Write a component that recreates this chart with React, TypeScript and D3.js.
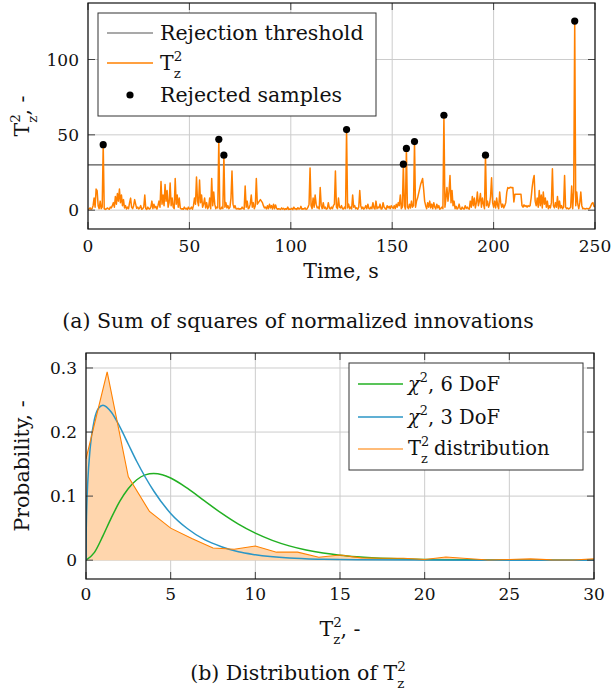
import React, { useEffect, useRef } from "react";
import * as d3 from "d3";

const W = 611;
const H = 692;
const FONT = "DejaVu Serif";

// T_z^2 samples, one every 0.5 s from 0 to 250 s
const sampleStep = 0.5;
const t2Values = [
  0.3, 0.8, 1.5, 0.6, 1, 3, 8, 2, 14, 13, 3, 1, 6, 1, 2, 43.5, 1, 0.5, 0.8, 1.5,
  1, 0.6, 2, 1.5, 3, 5, 2, 9, 4, 11, 6, 14, 5, 10, 3, 7, 1.5, 3, 0.8, 2,
  1, 5, 8, 2, 1, 3, 7, 4, 1.2, 2, 0.8, 1.5, 3, 0.6, 1, 2, 10, 1, 0.5, 2,
  1, 0.8, 2, 6, 1, 4, 1.5, 2.5, 0.7, 3, 6, 2, 19, 4, 10, 3, 17, 6, 13, 2,
  5, 18, 3, 8, 2, 1, 21, 4, 10, 2, 8, 1.5, 0.8, 1, 0.6, 2, 0.8, 1.2, 0.5, 2,
  0.8, 1, 2, 0.6, 3, 8, 4, 22, 6, 3, 20, 5, 10, 2, 4, 8, 1.5, 5, 1, 2,
  8, 1, 21, 3, 12, 4, 1, 2, 1.5, 47, 1, 0.8, 2, 1, 36.5, 2, 5, 1.5, 3, 1,
  2, 8, 26, 4, 1.5, 3, 1, 0.8, 1.2, 0.6, 1, 0.8, 2, 1, 0.7, 16, 2, 6, 1, 1.5,
  4, 10, 2, 5, 1, 3, 21, 4, 5, 6, 7, 6, 5, 3, 1.5, 2, 0.8, 3, 1, 4,
  1.5, 3, 0.8, 4, 1, 3.5, 1.2, 0.6, 1, 0.8, 0.5, 1.5, 0.7, 1.2, 0.4, 1, 0.6, 2, 0.5, 0.8,
  0.6, 1.2, 0.4, 2, 0.8, 1, 0.5, 1.6, 0.7, 0.9, 2.5, 0.6, 1, 0.8, 1.5, 0.5, 0.9, 2, 4, 28,
  3, 1, 8, 2, 10, 4, 1.5, 2, 0.8, 15, 3, 1, 5, 1.2, 2, 0.7, 1, 5, 1.5, 0.8,
  2, 1, 3, 4, 26, 2, 1, 8, 2, 1.5, 3, 1, 0.8, 2, 1, 53.5, 1.5, 4, 1, 2,
  0.8, 10, 2, 3, 1, 1.5, 0.6, 2, 13, 3, 1, 2, 0.7, 1.5, 3, 1, 4, 1.2, 0.8, 2,
  1, 5, 1.5, 0.8, 6, 1, 2, 1.5, 4, 0.8, 1, 5, 2, 1.2, 0.6, 3, 1.5, 2.5, 1, 3,
  2, 1.2, 3, 1, 4, 2, 5, 3, 10, 1, 2, 30.5, 3, 0.8, 41, 2, 1, 4, 1.5, 6,
  2, 3, 45.5, 2, 6, 8, 11, 14, 17, 19, 21, 14, 6, 3, 1, 5, 2, 6, 1.5, 4,
  1, 5, 2, 0.8, 4, 1.5, 3, 0.6, 1.2, 2, 1, 63, 2, 8, 15, 6, 12, 23, 5, 13,
  3, 6, 1, 2.5, 0.8, 1.5, 4, 1, 0.6, 2, 1, 0.8, 3, 1.2, 2, 1, 0.7, 6, 2, 9,
  3, 8, 1.5, 5, 12, 3, 6, 11, 2, 8, 4, 1, 36.5, 3, 6, 2, 4, 9, 21.5, 5,
  2, 6, 1.5, 8, 3, 1, 12, 5, 2, 4, 1.5, 3, 5, 12, 15, 14.5, 15, 15.2, 14.8, 15,
  5.5, 10.5, 10.6, 10.5, 10.6, 10.5, 10.6, 10.5, 3, 2, 3.5, 2.5, 3, 2, 3, 2.5, 3, 8, 15, 20,
  23, 6, 3, 8, 2, 13, 3, 10, 1.5, 12, 4, 8, 2, 6, 1, 3, 1.5, 5, 27.5, 3,
  1.5, 5, 2, 9, 1, 6, 1.5, 3, 1, 2, 23, 2, 1, 1.5, 0.8, 1.2, 2, 16, 1, 12,
  125.5, 3, 12, 4, 1, 5, 12, 3, 1, 1.2, 0.8, 1, 1.2, 0.9, 1, 1.5, 3, 4.5, 5, 2.5,
  2.5,
];
const threshold = 30;

// histogram of T_z^2 (bin centre, probability)
const distX = [0, 1.25, 2.5, 3.75, 5, 6.25, 7.5, 8.75, 10, 11.25, 12.5, 13.75, 15, 16.25, 17.5, 18.75, 20, 21.25, 22.5, 23.75, 25, 26.25, 27.5, 28.75, 30];
const distY = [0.158, 0.294, 0.13, 0.076, 0.05, 0.034, 0.019, 0.017, 0.022, 0.0125, 0.0125, 0.0045, 0.008, 0.0036, 0.003, 0.003, 0.001, 0.005, 0.0025, 0.0003, 0.001, 0.002, 0.0005, 0.0003, 0.002];

// chi-square densities
const chi6X = [0, 0.5, 1, 1.5, 2, 2.5, 3, 3.5, 4, 4.5, 5, 6, 7, 8, 9, 10, 11, 12, 13, 14, 15, 16, 18, 20, 22, 25, 30];
const chi6Y = [0, 0.0122, 0.0379, 0.0664, 0.092, 0.1119, 0.1255, 0.1331, 0.1353, 0.1334, 0.1283, 0.112, 0.0925, 0.0733, 0.0562, 0.0421, 0.0309, 0.0223, 0.0159, 0.0112, 0.0078, 0.0054, 0.0025, 0.0011, 0.0005, 0.00015, 0.00002];
const chi3X = [0, 0.005, 0.02, 0.05, 0.1, 0.25, 0.5, 0.75, 1, 1.5, 2, 2.5, 3, 4, 5, 6, 7, 8, 9, 10, 12, 14, 16, 20, 25, 30];
const chi3Y = [0, 0.028, 0.056, 0.087, 0.12, 0.176, 0.22, 0.2375, 0.242, 0.231, 0.208, 0.181, 0.154, 0.108, 0.073, 0.049, 0.032, 0.021, 0.013, 0.0085, 0.0034, 0.0014, 0.0005, 0.0001, 0, 0];

const topXTicks = [0, 50, 100, 150, 200, 250];
const topYTicks = [0, 50, 100];
const botXTicks = [0, 5, 10, 15, 20, 25, 30];
const botYTicks = [0, 0.1, 0.2, 0.3];

const ORANGE = "#ff8000";
const GREEN = "#22b022";
const BLUE = "#2b96c6";
const FILL = "#ffd6ad";
const GRID = "#cccccc";
const FS = 20.5; // labels, captions
const FL = 19.5; // lower legend
const FT = 17; // tick numbers

// T with stacked super 2 and sub z, followed by rest
function tz2(text: any, fs: number, rest: string) {
  const s = 0.66 * fs;
  text.append("tspan").text("T");
  text.append("tspan").attr("dy", -0.44 * fs).attr("font-size", s).text("2");
  text.append("tspan").attr("dx", -0.636 * s).attr("dy", 0.84 * fs).attr("font-size", s).text("z");
  text.append("tspan").attr("dy", -0.4 * fs).text(rest);
}

function chi(text: any, fs: number, rest: string) {
  text.append("tspan").attr("font-style", "italic").text("χ");
  text.append("tspan").attr("dy", -0.44 * fs).attr("font-size", 0.66 * fs).text("2");
  text.append("tspan").attr("dy", 0.44 * fs).text(rest);
}

function axesFrame(svg: any, x: any, y: any, xTicks: number[], yTicks: number[], xLabY: number) {
  const [x0, x1] = x.range();
  const [y0, y1] = y.range();
  const g = svg.append("g");
  g.selectAll(".gx").data(xTicks).enter().append("line")
    .attr("x1", (d) => x(d)).attr("x2", (d) => x(d)).attr("y1", y0).attr("y2", y1)
    .attr("stroke", GRID).attr("stroke-width", 1);
  g.selectAll(".gy").data(yTicks).enter().append("line")
    .attr("x1", x0).attr("x2", x1).attr("y1", (d) => y(d)).attr("y2", (d) => y(d))
    .attr("stroke", GRID).attr("stroke-width", 1);
  return () => {
    const t = svg.append("g").attr("stroke", "#444").attr("stroke-width", 1);
    const tl = 7;
    xTicks.forEach((d) => {
      t.append("line").attr("x1", x(d)).attr("x2", x(d)).attr("y1", y0).attr("y2", y0 - tl);
      t.append("line").attr("x1", x(d)).attr("x2", x(d)).attr("y1", y1).attr("y2", y1 + tl);
    });
    yTicks.forEach((d) => {
      t.append("line").attr("x1", x0).attr("x2", x0 + tl).attr("y1", y(d)).attr("y2", y(d));
      t.append("line").attr("x1", x1).attr("x2", x1 - tl).attr("y1", y(d)).attr("y2", y(d));
    });
    svg.append("rect").attr("x", x0).attr("y", y1).attr("width", x1 - x0).attr("height", y0 - y1)
      .attr("fill", "none").attr("stroke", "#111").attr("stroke-width", 1.2);
    svg.selectAll(null).data(xTicks).enter().append("text")
      .attr("x", (d) => x(d)).attr("y", xLabY).attr("text-anchor", "middle").attr("font-size", FT)
      .text((d) => String(d));
    svg.selectAll(null).data(yTicks).enter().append("text")
      .attr("x", x0 - 9).attr("y", (d) => y(d)).attr("dy", "0.36em").attr("text-anchor", "end")
      .attr("font-size", FT)
      .text((d) => String(d));
  };
}

const App = () => {
  const ref = useRef<SVGSVGElement>(null);

  useEffect(() => {
    const svg = d3.select(ref.current);
    svg.selectAll("*").remove();
    svg.attr("font-family", FONT).attr("font-size", FS).attr("fill", "#111");

    // ---------- (a) time series ----------
    const xT = d3.scaleLinear().domain([0, 250]).range([88, 595]);
    const yT = d3.scaleLinear().domain([-12.5, 137.5]).range([229, 3]);
    const finishTop = axesFrame(svg, xT, yT, topXTicks, topYTicks, 252);

    svg.append("clipPath").attr("id", "clipTop").append("rect")
      .attr("x", 88).attr("y", 3).attr("width", 507).attr("height", 226);

    const series = t2Values.map((v, i) => ({ t: i * sampleStep, v }));
    const rejected = series.filter((d) => d.v > threshold);

    svg.append("line").attr("x1", xT(0)).attr("x2", xT(250))
      .attr("y1", yT(threshold)).attr("y2", yT(threshold))
      .attr("stroke", "#555").attr("stroke-width", 1.2);

    const line = d3.line<any>().x((d) => xT(d.t)).y((d) => yT(d.v));
    svg.append("path").datum(series).attr("d", line).attr("clip-path", "url(#clipTop)")
      .attr("fill", "none").attr("stroke", ORANGE).attr("stroke-width", 1.5)
      .attr("stroke-linejoin", "round");

    svg.selectAll(".rej").data(rejected).enter().append("circle")
      .attr("cx", (d) => xT(d.t)).attr("cy", (d) => yT(d.v)).attr("r", 3.6).attr("fill", "#000");

    finishTop();

    // legend (a)
    const lg = svg.append("g");
    lg.append("rect").attr("x", 98).attr("y", 13).attr("width", 278).attr("height", 103)
      .attr("fill", "#fff").attr("stroke", "#333").attr("stroke-width", 1);
    lg.append("line").attr("x1", 107).attr("x2", 153).attr("y1", 33).attr("y2", 33)
      .attr("stroke", "#555").attr("stroke-width", 1.2);
    lg.append("text").attr("x", 160).attr("y", 40).text("Rejection threshold");
    lg.append("line").attr("x1", 107).attr("x2", 153).attr("y1", 63).attr("y2", 63)
      .attr("stroke", ORANGE).attr("stroke-width", 1.5);
    tz2(lg.append("text").attr("x", 160).attr("y", 70), FS, "");
    lg.append("circle").attr("cx", 130).attr("cy", 95).attr("r", 3.6).attr("fill", "#000");
    lg.append("text").attr("x", 160).attr("y", 102).text("Rejected samples");

    svg.append("text").attr("x", 341).attr("y", 278).attr("text-anchor", "middle").text("Time, s");
    tz2(svg.append("text").attr("transform", "translate(29,116) rotate(-90)").attr("text-anchor", "middle"), FS, ", -");
    svg.append("text").attr("x", 298).attr("y", 328).attr("text-anchor", "middle")
      .text("(a) Sum of squares of normalized innovations");

    // ---------- (b) distribution ----------
    const xD = d3.scaleLinear().domain([0, 30]).range([86, 594]);
    const yD = d3.scaleLinear().domain([-0.0294, 0.3234]).range([579, 353]);
    const finishBot = axesFrame(svg, xD, yD, botXTicks, botYTicks, 600);

    svg.append("clipPath").attr("id", "clipBot").append("rect")
      .attr("x", 86).attr("y", 353).attr("width", 508).attr("height", 226);
    const pb = svg.append("g").attr("clip-path", "url(#clipBot)");

    const dist = distX.map((x, i) => ({ x, y: distY[i] }));
    const area = d3.area<any>().x((d) => xD(d.x)).y0(yD(0)).y1((d) => yD(d.y));
    pb.append("path").datum(dist).attr("d", area).attr("fill", FILL);

    const curve = (xs: number[], ys: number[]) =>
      d3.line<number>().x((d) => xD(d)).y((d, i) => yD(ys[i])).curve(d3.curveMonotoneX)(xs);
    pb.append("path").attr("d", curve(chi6X, chi6Y)).attr("fill", "none")
      .attr("stroke", GREEN).attr("stroke-width", 1.5);
    pb.append("path").attr("d", curve(chi3X, chi3Y)).attr("fill", "none")
      .attr("stroke", BLUE).attr("stroke-width", 1.5);
    const dl = d3.line<any>().x((d) => xD(d.x)).y((d) => yD(d.y));
    pb.append("path").datum(dist).attr("d", dl).attr("fill", "none")
      .attr("stroke", ORANGE).attr("stroke-width", 1.1);

    finishBot();

    const lb = svg.append("g").attr("font-size", FL);
    lb.append("rect").attr("x", 349).attr("y", 363).attr("width", 234).attr("height", 107)
      .attr("fill", "#fff").attr("stroke", "#333").attr("stroke-width", 1);
    lb.append("line").attr("x1", 358).attr("x2", 403).attr("y1", 384).attr("y2", 384)
      .attr("stroke", GREEN).attr("stroke-width", 1.5);
    chi(lb.append("text").attr("x", 408).attr("y", 391), FL, ", 6 DoF");
    lb.append("line").attr("x1", 358).attr("x2", 403).attr("y1", 417).attr("y2", 417)
      .attr("stroke", BLUE).attr("stroke-width", 1.5);
    chi(lb.append("text").attr("x", 408).attr("y", 424), FL, ", 3 DoF");
    lb.append("line").attr("x1", 358).attr("x2", 403).attr("y1", 449).attr("y2", 449)
      .attr("stroke", "#ffa64d").attr("stroke-width", 1.5);
    tz2(lb.append("text").attr("x", 408).attr("y", 455), FL, " distribution");

    tz2(svg.append("text").attr("x", 340).attr("y", 636).attr("text-anchor", "middle"), FS, ", -");
    svg.append("text").attr("transform", "translate(29,466) rotate(-90)").attr("text-anchor", "middle")
      .text("Probability, -");
    const cap = svg.append("text").attr("x", 298).attr("y", 680).attr("text-anchor", "middle");
    cap.append("tspan").text("(b) Distribution of ");
    tz2(cap, FS, "");
  }, []);

  return (
    <svg
      ref={ref}
      width={W}
      height={H}
      viewBox={`0 0 ${W} ${H}`}
      style={{ position: "absolute", left: 0, top: 0, background: "#fff" }}
    ></svg>
  );
};

export default App;
